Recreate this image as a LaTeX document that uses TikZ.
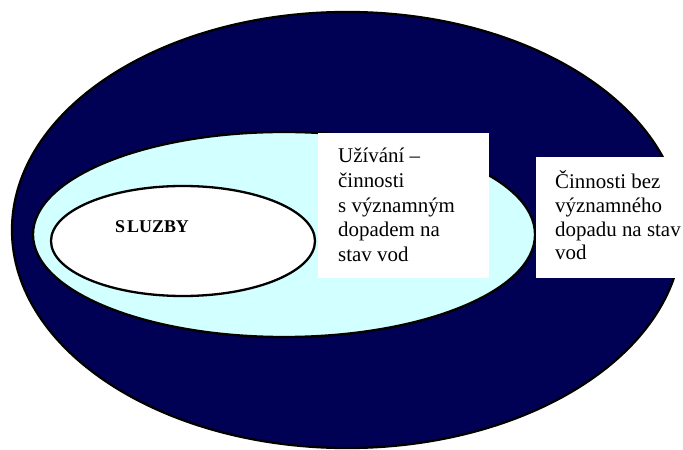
\documentclass[tikz,border=0pt]{standalone}
\usepackage{fontspec}
\setmainfont{Liberation Serif}
\usetikzlibrary{shapes.geometric}
\definecolor{navy}{RGB}{0,0,85}
\definecolor{palecyan}{RGB}{210,255,255}
\begin{document}
\begin{tikzpicture}[x=1bp,y=-1bp,
  ring/.style={ellipse, draw=black, line width=2.3bp, inner sep=0pt, outer sep=0pt},
  panel/.style={fill=white, draw=none, anchor=north west, inner sep=0pt, outer sep=0pt},
  boxtext/.style={anchor=base west, inner sep=0pt, font=\fontsize{21}{24.5}\selectfont},
  tagtext/.style={anchor=base west, inner sep=0pt, font=\bfseries\fontsize{18}{20}\selectfont}]
\useasboundingbox (0,0) rectangle (683,450);

% nested sets
\node[ring, fill=navy, minimum width=670bp, minimum height=436bp] (outer) at (347,230) {};
\node[ring, fill=palecyan, minimum width=502bp, minimum height=205bp] (middle) at (284,234.5) {};
\node[ring, fill=white, minimum width=264bp, minimum height=110bp] (inner) at (183,241) {};

% white text panels
\node[panel, minimum width=171bp, minimum height=145bp] (usebox) at (318,133) {};
\node[panel, minimum width=147bp, minimum height=121bp] (otherbox) at (536,157) {};

% labels
\node[tagtext] (services) at (115,233) {S\kern2bp LUZBY};

\node[boxtext] (u1) at (338,162.7) {Užívání –};
\node[boxtext] (u2) at (338,187.4) {činnosti};
\node[boxtext] (u3) at (338,212.1) {s významným};
\node[boxtext] (u4) at (338,236.8) {dopadem na};
\node[boxtext] (u5) at (338,261.5) {stav vod};

\node[boxtext] (o1) at (555,188.3) {Činnosti bez};
\node[boxtext] (o2) at (555,212.2) {významného};
\node[boxtext] (o3) at (555,236.1) {dopadu na stav};
\node[boxtext] (o4) at (555,260.0) {vod};
\end{tikzpicture}
\end{document}
